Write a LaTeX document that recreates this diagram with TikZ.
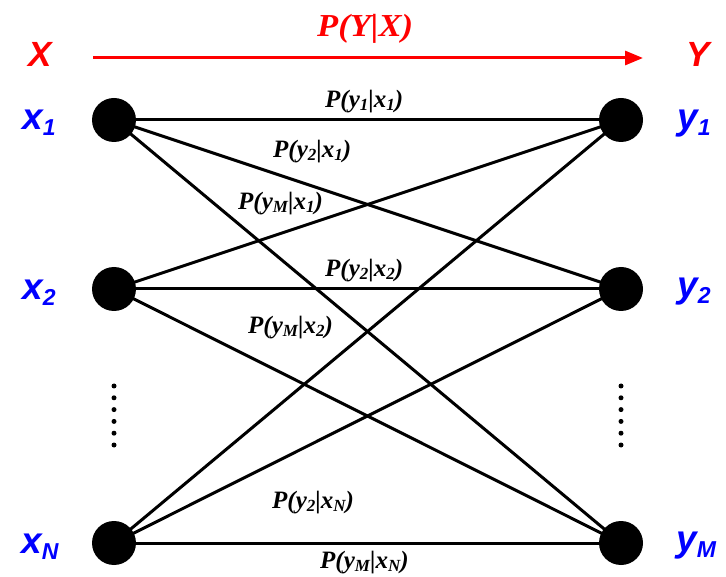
\documentclass[tikz,border=0pt]{standalone}
\usepackage{fontspec}
\setmainfont{Liberation Serif}
\newfontfamily\arialf{Liberation Sans}
\usetikzlibrary{arrows.meta}
\definecolor{lblblue}{RGB}{0,0,255}
\definecolor{lblred}{RGB}{255,0,0}
\newcommand{\ssb}[1]{\raisebox{-6pt}{\fontsize{23}{23}\selectfont #1}}
\newcommand{\esb}[1]{\raisebox{-3pt}{\fontsize{17}{17}\selectfont #1}}
\begin{document}
\begin{tikzpicture}[x=1pt,y=-1pt,
  dotnode/.style={circle,fill=black,inner sep=0pt,minimum size=44pt},
  edge/.style={line width=3pt,black},
  varlbl/.style={anchor=base west,inner sep=0pt,text=lblblue,font=\arialf\bfseries\itshape\fontsize{37}{37}\selectfont},
  caplbl/.style={anchor=base west,inner sep=0pt,text=lblred,font=\arialf\bfseries\itshape\fontsize{35}{35}\selectfont},
  plbl/.style={anchor=base west,inner sep=0pt,font=\bfseries\itshape\fontsize{25}{25}\selectfont},
  smalldot/.style={circle,fill=black,inner sep=0pt,minimum size=5pt}]
\useasboundingbox (0,0) rectangle (726,577);
% nodes
\node[dotnode] (x1) at (114,120) {};
\node[dotnode] (x2) at (114,289) {};
\node[dotnode] (xN) at (114,543) {};
\node[dotnode] (y1) at (621,120) {};
\node[dotnode] (y2) at (621,289) {};
\node[dotnode] (yM) at (621,543) {};
% edges
\foreach \a in {x1,x2,xN}{
  \foreach \b in {y1,y2,yM}{
    \draw[edge] (\a.center) -- (\b.center);
  }
}
% vertical dots
\foreach \i in {0,...,5}{
  \node[smalldot] (ld\i) at (114,386+11.8*\i) {};
  \node[smalldot] (rd\i) at (621,386+11.8*\i) {};
}
% top arrow
\coordinate (arrS) at (93,58);
\coordinate (arrE) at (643,58);
\draw[lblred,line width=3pt,-{Triangle[length=18pt,width=14pt]}] (arrS) -- (arrE);
\node[anchor=base west,inner sep=0pt,text=lblred,font=\bfseries\itshape\fontsize{32}{32}\selectfont,xscale=1.08] (pyx) at (317,37) {P(Y|X)};
\node[caplbl] (Xl) at (28,67) {X};
\node[caplbl] (Yl) at (686,67) {Y};
% variable labels
\node[varlbl] (lx1) at (22,130) {x\ssb{1}};
\node[varlbl] (lx2) at (22,300) {x\ssb{2}};
\node[varlbl] (lxN) at (21,553) {x\ssb{N}};
\node[varlbl] (ly1) at (677,130) {y\ssb{1}};
\node[varlbl] (ly2) at (677,298) {y\ssb{2}};
\node[varlbl] (lyM) at (676,551) {y\ssb{M}};
% edge labels
\node[plbl] (p11) at (325,108) {P(y\esb{1}|x\esb{1})};
\node[plbl] (p21) at (273,158) {P(y\esb{2}|x\esb{1})};
\node[plbl] (pM1) at (238,210) {P(y\esb{M}|x\esb{1})};
\node[plbl] (p22) at (325,277) {P(y\esb{2}|x\esb{2})};
\node[plbl] (pM2) at (248,334) {P(y\esb{M}|x\esb{2})};
\node[plbl] (p2N) at (272,508) {P(y\esb{2}|x\esb{N})};
\node[plbl] (pMN) at (320,568) {P(y\esb{M}|x\esb{N})};
\end{tikzpicture}
\end{document}
